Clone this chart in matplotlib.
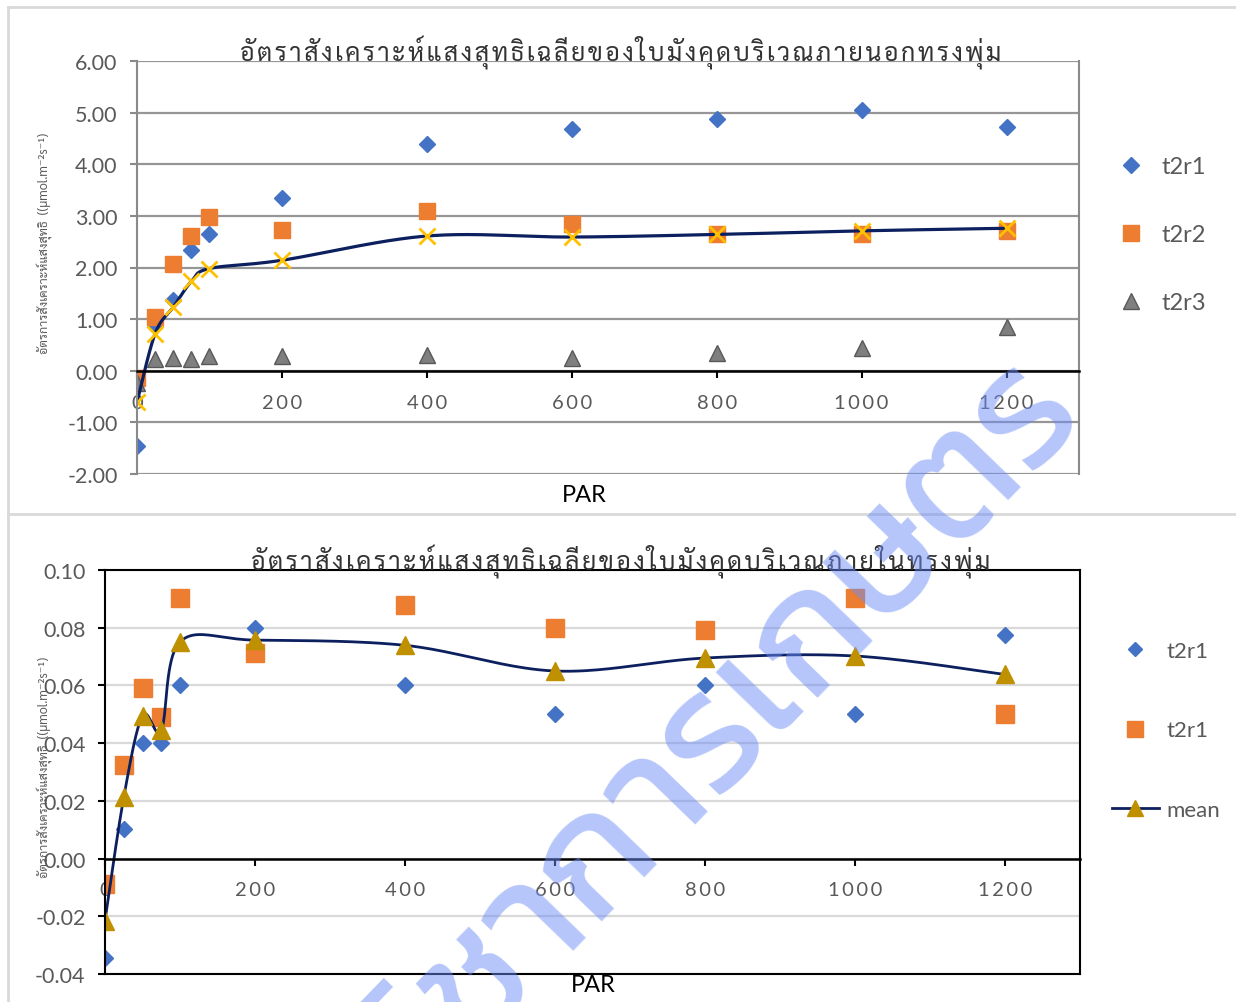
import unicodedata
import numpy as np
import matplotlib
matplotlib.use("Agg")
from matplotlib import pyplot as plt
from matplotlib.lines import Line2D
from matplotlib.ticker import FuncFormatter

# PAR levels (µmol m-2 s-1)
par = [0, 25, 50, 75, 100, 200, 400, 600, 800, 1000, 1200]

# outer canopy
out_t2r1 = [-1.45, 0.88, 1.38, 2.33, 2.65, 3.35, 4.40, 4.69, 4.88, 5.06, 4.72]
out_t2r2 = [-0.15, 1.05, 2.06, 2.61, 2.97, 2.73, 3.10, 2.84, 2.65, 2.64, 2.71]
out_t2r3 = [-0.23, 0.23, 0.24, 0.22, 0.28, 0.29, 0.30, 0.24, 0.34, 0.44, 0.84]
out_mean = [-0.61, 0.72, 1.23, 1.73, 1.98, 2.14, 2.61, 2.59, 2.64, 2.71, 2.76]

# inner canopy
in_t2r1_a = [-0.0343, 0.0101, 0.040, 0.040, 0.060, 0.080, 0.060, 0.050, 0.060, 0.050, 0.0776]
in_t2r1_b = [-0.0087, 0.0324, 0.0591, 0.049, 0.0902, 0.0713, 0.0878, 0.080, 0.0791, 0.0903, 0.0501]
in_mean = [-0.0215, 0.0212, 0.0495, 0.0445, 0.0751, 0.0757, 0.0739, 0.0650, 0.0695, 0.0702, 0.0638]

title_out = "อัตราสังเคราะห์แสงสุทธิเฉลี่ยของใบมังคุดบริเวณภายนอกทรงพุ่ม"
title_in = "อัตราสังเคราะห์แสงสุทธิเฉลี่ยของใบมังคุดบริเวณภายในทรงพุ่ม"
ylabel = "อัตรการสังเคราะห์แสงสุทธิ  ((µmol.m⁻²s⁻¹)"
watermark = "วิชาการเกษตร"

THAI = ['Sarabun', 'Athiti', 'DejaVu Sans']
THAI_PLAIN = ['Kanit', 'Prompt', 'Noto Sans Thai', 'Athiti', 'DejaVu Sans']
plt.rcParams['font.family'] = ['Lato', 'DejaVu Sans']

GREY = '#595959'
BLUE = '#4472C4'
ORANGE = '#ED7D31'
NAVY = '#0c1f5e'

W, H = 1236, 1003
fig = plt.figure(figsize=(W / 100, H / 100), dpi=100)


def fx(px):
    return px / W


def fy(py):
    return 1 - py / H


def spaced(s, sep='\u200a'):
    # put a small gap before every base character (not before combining marks)
    out = ''
    for i, ch in enumerate(s):
        if i > 0 and unicodedata.category(ch) != 'Mn':
            out += sep
        out += ch
    return out


def smooth(ax, x, y, n=40):
    # bezier smoothing done in screen space
    pts = ax.transData.transform(np.column_stack([x, y]))
    segs = []
    last = len(pts) - 1
    for i in range(last):
        p0, p1 = pts[max(i - 1, 0)], pts[i]
        p2, p3 = pts[i + 1], pts[min(i + 2, last)]
        c1 = p1 + (p2 - p0) / 6
        c2 = p2 - (p3 - p1) / 6
        t = np.linspace(0, 1, n)[:, None]
        seg = (1 - t) ** 3 * p1 + 3 * (1 - t) ** 2 * t * c1 + 3 * (1 - t) * t ** 2 * c2 + t ** 3 * p2
        segs.append(seg if i == 0 else seg[1:])
    curve = ax.transData.inverted().transform(np.vstack(segs))
    return curve[:, 0], curve[:, 1]


def setup(ax, ylim, ystep, fmt, grid_color, frame_color):
    ax.set_xlim(0, 1300)
    ax.set_ylim(*ylim)
    ax.set_yticks(np.arange(ylim[0], ylim[1] + ystep / 2, ystep))
    ax.yaxis.set_major_formatter(FuncFormatter(lambda v, p: fmt.format(v)))
    ticks = list(range(0, 1201, 200))
    ax.set_xticks(ticks)
    ax.set_xticklabels([spaced(str(t), '\u2009') for t in ticks])
    ax.set_axisbelow(True)
    ax.grid(axis='y', color=grid_color, lw=1.6)
    ax.spines['bottom'].set_position(('data', 0))
    ax.spines['bottom'].set_color('black')
    ax.spines['bottom'].set_linewidth(1.8)
    for s in ['left', 'right', 'top']:
        ax.spines[s].set_color(frame_color)
        ax.spines[s].set_linewidth(1.5)
    ax.tick_params(axis='x', length=5, width=1.5, color='black',
                   labelsize=14.5, labelcolor=GREY, pad=11.5)
    ax.tick_params(axis='y', length=5, width=1.5, color=frame_color,
                   labelsize=15.5, labelcolor=GREY, pad=9)


# chart area frames
for xs, ys in [([8, W], [8, 8]), ([8, 8], [8, H]), ([8, W], [515, 515])]:
    fig.add_artist(Line2D([fx(v) for v in xs], [fy(v) for v in ys],
                          color='#d9d9d9', lw=2))

# ---- outer canopy ----
ax1 = fig.add_axes([fx(137), fy(475), (1079 - 137) / W, (475 - 62) / H])
setup(ax1, (-2, 6), 1, '{:.2f}', '#969696', '#8a8a8a')
ax1.spines['top'].set_visible(False)

ax1.plot(par, out_t2r1, 'D', color=BLUE, ms=8, label='t2r1')
ax1.plot(par, out_t2r2, 's', color=ORANGE, ms=12, label='t2r2')
ax1.plot(par, out_t2r3, '^', mfc='#7f7f7f', mec='#595959', mew=1, ms=11.5, label='t2r3')
sx, sy = smooth(ax1, par, out_mean)
ax1.plot(sx, sy, color=NAVY, lw=2.3)
ax1.plot(par, out_mean, 'x', color='#FFC000', ms=12, mew=2)
ax1.legend(handles=ax1.get_lines()[:3], loc='upper left',
           bbox_to_anchor=(fx(1119), fy(157)), bbox_transform=fig.transFigure,
           frameon=False, fontsize=17, labelcolor=GREY, handlelength=1.0,
           handletextpad=0.8, labelspacing=2.0, borderpad=0, borderaxespad=0)

fig.text(fx(621), fy(62), spaced(title_out), ha='center', va='baseline',
         fontsize=18, color='#333333', family=THAI)
fig.text(fx(584), fy(496), 'PAR', ha='center', va='center', fontsize=17, color='black')
fig.text(fx(45), fy(243), ylabel, rotation=90, ha='center', va='center',
         fontsize=9, color=GREY, family=THAI)

# ---- inner canopy ----
ax2 = fig.add_axes([fx(105), fy(975), (1080 - 105) / W, (975 - 571) / H])
setup(ax2, (-0.04, 0.10), 0.02, '{:.2f}', '#d9d9d9', 'black')
ax2.plot([0, 1], [0, 0], transform=ax2.transAxes, color='black', lw=1.5, clip_on=False)

ax2.plot(par, in_t2r1_a, 'D', color=BLUE, ms=8.5)
ax2.plot(par, in_t2r1_b, 's', color=ORANGE, ms=12.5)
sx, sy = smooth(ax2, par, in_mean)
ax2.plot(sx, sy, color=NAVY, lw=2.0)
ax2.plot(par, in_mean, '^', color='#BF9000', ms=13)

handles = [
    Line2D([], [], ls='none', marker='D', color=BLUE, ms=7.5, label='t2r1'),
    Line2D([], [], ls='none', marker='s', color=ORANGE, ms=11, label='t2r1'),
    Line2D([], [], color=NAVY, lw=2.0, marker='^', mfc='#BF9000', mec='#BF9000',
           ms=12, label='mean'),
]
ax2.legend(handles=handles, loc='upper left',
           bbox_to_anchor=(fx(1112), fy(642)), bbox_transform=fig.transFigure,
           frameon=False, fontsize=16, labelcolor=GREY, handlelength=2.1,
           handletextpad=0.35, labelspacing=2.67, borderpad=0, borderaxespad=0)

fig.text(fx(621), fy(571), spaced(title_in), ha='center', va='baseline',
         fontsize=18, color='#333333', family=THAI)
fig.text(fx(593), fy(986), 'PAR', ha='center', va='center', fontsize=17, color='black')
fig.text(fx(45), fy(767), ylabel, rotation=90, ha='center', va='center',
         fontsize=9, color=GREY, family=THAI)

# watermark
fig.text(fx(725), fy(735), watermark, rotation=46, rotation_mode='anchor',
         ha='center', va='center', fontsize=120, color='#6d8cf5', alpha=0.5,
         family=THAI_PLAIN, zorder=10)

fig.savefig('out.png', dpi=100)
